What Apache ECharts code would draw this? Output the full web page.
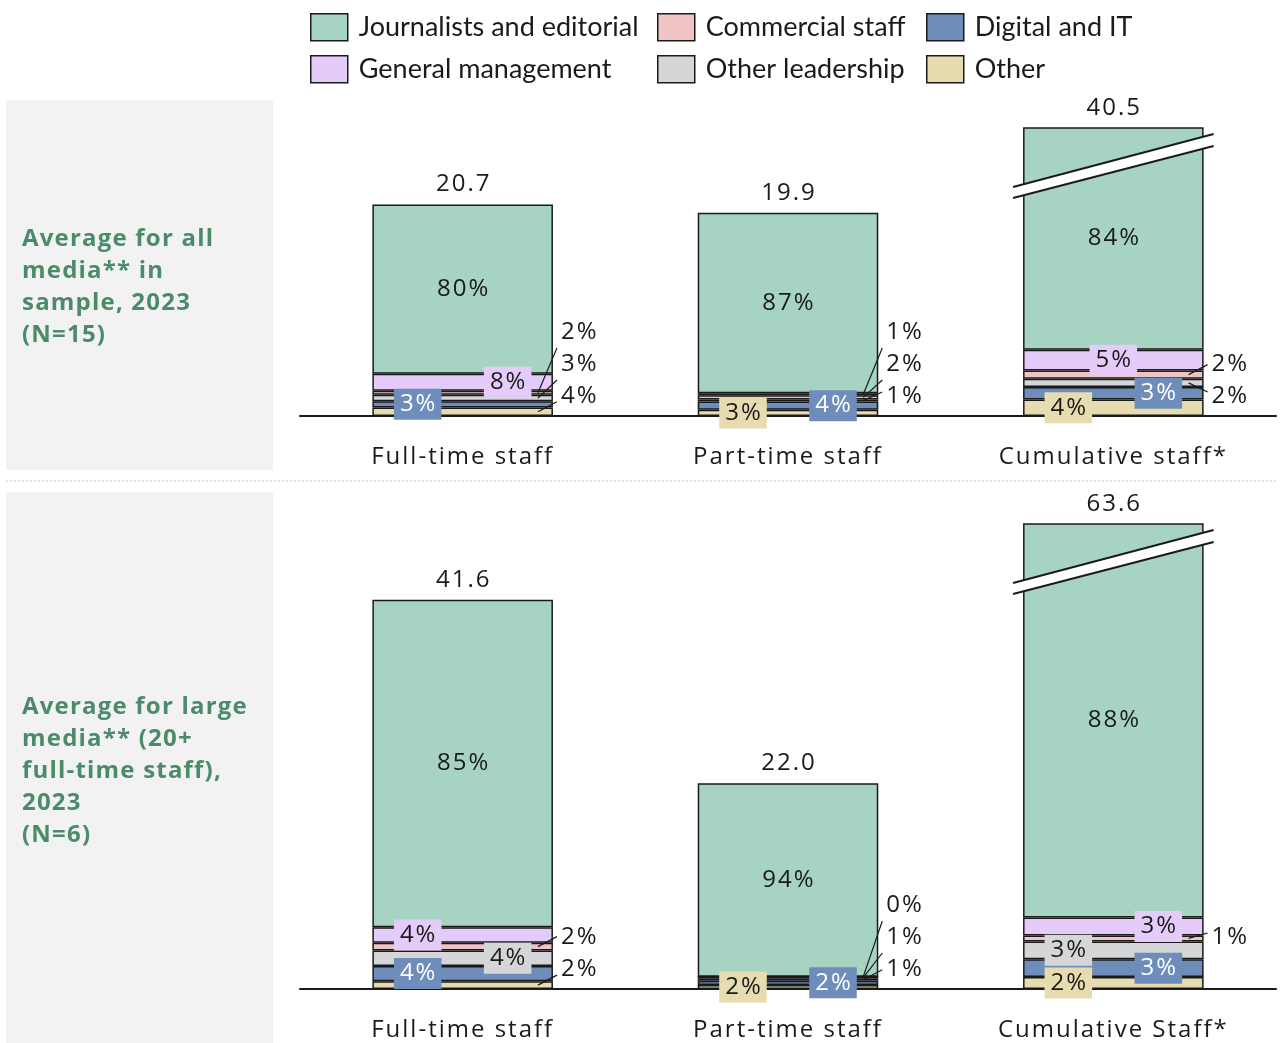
<!DOCTYPE html>
<html>
<head>
<meta charset="utf-8">
<script src="https://cdn.jsdelivr.net/npm/echarts@6/dist/echarts.min.js"></script>
<style>
  html, body { margin: 0; padding: 0; background: #ffffff; }
  #chart { width: 1282px; height: 1043px; }
</style>
</head>
<body>
<div id="chart"></div>
<script>
// ---- data ----------------------------------------------------------------
const categoriesAll = ['Full-time staff', 'Part-time staff', 'Cumulative staff*'];
const categoriesLarge = ['Full-time staff', 'Part-time staff', 'Cumulative Staff*'];

// average headcount per group
const totalsAll = [20.7, 19.9, 40.5];
const totalsLarge = [41.6, 22.0, 63.6];

// share of headcount per staff type (%), all media in sample (N=15)
const journalistsAll = [80, 87, 84];
const genMgmtAll = [8, 1, 5];
const commercialAll = [2, 2, 2];
const otherLeadAll = [3, 1, 2];
const digitalAll = [3, 4, 3];
const otherAll = [4, 3, 4];

// share of headcount per staff type (%), large media (N=6)
const journalistsLarge = [85, 94, 88];
const genMgmtLarge = [4, 0, 3];
const commercialLarge = [2, 1, 1];
const otherLeadLarge = [4, 1, 3];
const digitalLarge = [4, 2, 3];
const otherLarge = [2, 2, 2];

// ---- typography: light tracking for labels and captions ------------------
// zrender has no letter-spacing option, so it is applied on the 2D context
// for the fonts that use it (measuring and drawing alike).
const TRACKED = [
  { test: /bold .*Open Sans/, spacing: '1.2px' },
  { test: /Open Sans/, spacing: '2px' }
];
if ('letterSpacing' in CanvasRenderingContext2D.prototype) {
  ['fillText', 'strokeText', 'measureText'].forEach(fn => {
    const orig = CanvasRenderingContext2D.prototype[fn];
    CanvasRenderingContext2D.prototype[fn] = function () {
      const rule = TRACKED.find(r => r.test.test(this.font));
      this.letterSpacing = rule ? rule.spacing : '0px';
      return orig.apply(this, arguments);
    };
  });
}

// ---- styling -------------------------------------------------------------
const INK = '#1a1a1a';
const NUM_FONT = 'Open Sans';
const TXT_FONT = 'Lato';
const FS = 24;

// stacking order, bottom to top
const staffTypes = [
  { key: 'other',       name: 'Other',                     color: '#e6dcb0', text: INK },
  { key: 'digital',     name: 'Digital and IT',            color: '#6e8dba', text: '#ffffff' },
  { key: 'otherLead',   name: 'Other leadership',          color: '#d5d6d8', text: INK },
  { key: 'commercial',  name: 'Commercial staff',          color: '#f0c4c4', text: INK },
  { key: 'genMgmt',     name: 'General management',        color: '#e5cbfa', text: INK },
  { key: 'journalists', name: 'Journalists and editorial', color: '#a7d3c2', text: INK }
];

const panels = [
  {
    cats: categoriesAll, totals: totalsAll, max: 28.2,
    grid: { left: 300, right: 6, top: 128, height: 288 },
    shares: { other: otherAll, digital: digitalAll, otherLead: otherLeadAll,
              commercial: commercialAll, genMgmt: genMgmtAll, journalists: journalistsAll },
    place: {
      other:       ['callout:0', 'left', 'left'],
      digital:     ['left', 'right', 'right'],
      otherLead:   ['callout:1', 'callout:0', 'callout:0'],
      commercial:  ['callout:2', 'callout:1', 'callout:1'],
      genMgmt:     ['right', 'callout:2', 'center'],
      journalists: ['center', 'center', 'center']
    }
  },
  {
    cats: categoriesLarge, totals: totalsLarge, max: 49.7,
    grid: { left: 300, right: 6, top: 524, height: 468 },
    shares: { other: otherLarge, digital: digitalLarge, otherLead: otherLeadLarge,
              commercial: commercialLarge, genMgmt: genMgmtLarge, journalists: journalistsLarge },
    place: {
      other:       ['callout:0', 'left', 'left'],
      digital:     ['left', 'right', 'right'],
      otherLead:   ['right', 'callout:0', 'left'],
      commercial:  ['callout:1', 'callout:1', 'callout:1'],
      genMgmt:     ['left', 'callout:2', 'right'],
      journalists: ['center', 'center', 'center']
    }
  }
];

const BAR_RATIO = 0.555;
const LABEL_SHIFT = 45;

// headcount of one segment: its share of the group total
function segValue(panel, key, i) {
  const sum = staffTypes.reduce((s, t) => s + panel.shares[t.key][i], 0);
  return panel.totals[i] * panel.shares[key][i] / sum;
}

// ---- series --------------------------------------------------------------
const series = [];
panels.forEach((panel, p) => {
  staffTypes.forEach(t => {
    series.push({
      type: 'bar',
      name: t.name,
      xAxisIndex: p, yAxisIndex: p,
      stack: 'panel' + p,
      barWidth: (BAR_RATIO * 100) + '%',
      clip: true,
      itemStyle: { color: t.color, borderColor: INK, borderWidth: 1.5 },
      emphasis: { disabled: true },
      data: panel.cats.map((c, i) => {
        const where = panel.place[t.key][i];
        const inside = where === 'left' || where === 'right' || where === 'center';
        const dx = where === 'left' ? -LABEL_SHIFT : where === 'right' ? LABEL_SHIFT : 0;
        return {
          value: segValue(panel, t.key, i),
          label: inside ? {
            show: true, position: 'inside', offset: [dx, 0],
            formatter: panel.shares[t.key][i] + '%',
            color: t.text, fontFamily: NUM_FONT, fontSize: FS, lineHeight: 26,
            backgroundColor: t.color, padding: [3, 4, 2, 6]
          } : { show: false }
        };
      })
    });
  });

  // totals above the bars, broken-bar marks and callout labels for thin segments
  series.push({
    type: 'custom',
    xAxisIndex: p, yAxisIndex: p,
    z: 10,
    silent: true,
    data: panel.cats.map((c, i) => [i]),
    encode: { x: 0 },
    renderItem: function (params, api) {
      const i = params.dataIndex;
      const cs = params.coordSys;
      const total = panel.totals[i];
      const band = api.size([1, 0])[0];
      const barW = band * BAR_RATIO;
      const base = api.coord([i, 0]);
      const cx = base[0], baseY = base[1];
      const L = cx - barW / 2, R = cx + barW / 2;
      const topY = api.coord([i, Math.min(total, panel.max)])[1];
      const kids = [];

      kids.push({
        type: 'text',
        style: { text: total.toFixed(1), x: cx + 1, y: topY - 7, align: 'center', verticalAlign: 'bottom',
                 font: FS + 'px "' + NUM_FONT + '"', fill: INK }
      });

      if (total > panel.max) {
        const t = cs.y;
        kids.push({
          type: 'polygon',
          shape: { points: [[L - 10, t + 59], [R + 10, t + 6], [R + 10, t + 18], [L - 10, t + 70]] },
          style: { fill: '#ffffff' }
        });
        kids.push({ type: 'line', shape: { x1: L - 10, y1: t + 59, x2: R + 10, y2: t + 6 },
                    style: { stroke: INK, lineWidth: 2 } });
        kids.push({ type: 'line', shape: { x1: L - 10, y1: t + 70, x2: R + 10, y2: t + 18 },
                    style: { stroke: INK, lineWidth: 2 } });
      }

      let below = 0;
      staffTypes.forEach(st => {
        const v = segValue(panel, st.key, i);
        const where = panel.place[st.key][i];
        if (where.indexOf('callout') === 0) {
          const slot = +where.split(':')[1];
          const segY = api.coord([i, below + v / 2])[1];
          const labelY = baseY - 20 - 32 * slot;
          const d = Math.max(-4, Math.min(16, segY - labelY - 10));
          kids.push({ type: 'line',
                      shape: { x1: R - 15, y1: segY, x2: R + 4, y2: labelY + d },
                      style: { stroke: INK, lineWidth: 1.2 } });
          kids.push({ type: 'text',
                      style: { text: panel.shares[st.key][i] + '%', x: R + 8, y: labelY,
                               align: 'left', verticalAlign: 'middle',
                               font: FS + 'px "' + NUM_FONT + '"', fill: INK } });
        }
        below += v;
      });
      return { type: 'group', children: kids };
    }
  });
});

// ---- legend, laid out as a 3 x 2 grid ------------------------------------
const legendSlots = [
  ['Journalists and editorial', 310, 13], ['Commercial staff', 657, 13], ['Digital and IT', 926, 13],
  ['General management', 310, 55], ['Other leadership', 657, 55], ['Other', 926, 55]
];
const legend = legendSlots.map(([name, x, y]) => ({
  data: [name], left: x, top: y, padding: 0,
  icon: 'rect', itemWidth: 37, itemHeight: 27, selectedMode: false,
  itemStyle: { borderColor: INK, borderWidth: 1.5 },
  textStyle: { fontFamily: TXT_FONT, fontSize: 27, color: INK, padding: [0, 0, 0, 6] }
}));

// ---- side captions and panel backgrounds ---------------------------------
const GREEN = '#4b8b6a';
const captionFont = 'bold 24px "' + NUM_FONT + '"';
const graphic = [
  { type: 'rect', left: 6, top: 100, shape: { width: 267, height: 370 }, style: { fill: '#f2f2f2' }, z: -10 },
  { type: 'rect', left: 6, top: 492, shape: { width: 267, height: 551 }, style: { fill: '#f2f2f2' }, z: -10 },
  { type: 'line', shape: { x1: 6, y1: 481, x2: 1276, y2: 481 },
    style: { stroke: '#c8c8c8', lineWidth: 1, lineDash: [2, 2] }, z: -10 },
  { type: 'text', left: 22, top: 223,
    style: { text: 'Average for all\nmedia** in\nsample, 2023\n(N=15)', fill: GREEN,
             font: captionFont, lineHeight: 32 } },
  { type: 'text', left: 22, top: 691,
    style: { text: 'Average for large\nmedia** (20+\nfull-time staff),\n2023\n(N=6)', fill: GREEN,
             font: captionFont, lineHeight: 32 } }
];

const option = {
  animation: false,
  backgroundColor: '#ffffff',
  legend: legend,
  graphic: graphic,
  grid: panels.map(p => p.grid),
  xAxis: panels.map((p, idx) => ({
    type: 'category', gridIndex: idx, data: p.cats,
    axisLine: { show: true, lineStyle: { color: INK, width: 2 } },
    axisTick: { show: false },
    axisLabel: { color: INK, fontFamily: NUM_FONT, fontSize: FS, margin: 28 }
  })),
  yAxis: panels.map((p, idx) => ({
    type: 'value', gridIndex: idx, min: 0, max: p.max, show: false, splitLine: { show: false }
  })),
  series: series
};

const chart = echarts.init(document.getElementById('chart'), null, { renderer: 'canvas' });
chart.setOption(option);
</script>
</body>
</html>
